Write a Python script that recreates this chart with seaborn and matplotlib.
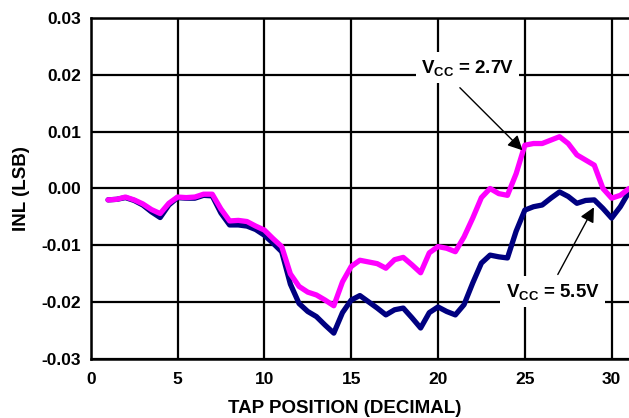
import numpy as np
import pandas as pd
from matplotlib import pyplot as plt
import seaborn as sns


# INL readings every half tap
tap = [1 + 0.5 * i for i in range(61)]
inl_27v = [-0.0020, -0.0019, -0.0015, -0.0020, -0.0027, -0.0037, -0.0044, -0.0026,
           -0.0015, -0.0016, -0.0015, -0.0010, -0.0010, -0.0036, -0.0057, -0.0056,
           -0.0058, -0.0066, -0.0073, -0.0088, -0.0102, -0.0150, -0.0172, -0.0182,
           -0.0187, -0.0196, -0.0206, -0.0164, -0.0137, -0.0126, -0.0129, -0.0132,
           -0.0140, -0.0125, -0.0121, -0.0134, -0.0148, -0.0113, -0.0102, -0.0105,
           -0.0111, -0.0085, -0.0052, -0.0016, 0.0000, -0.0009, -0.0012, 0.0026,
           0.0076, 0.0079, 0.0079, 0.0085, 0.0091, 0.0079, 0.0059, 0.0050,
           0.0041, 0.0000, -0.0017, -0.0012, 0.0000]
inl_55v = [-0.0020, -0.0019, -0.0016, -0.0021, -0.0029, -0.0041, -0.0051, -0.0029,
           -0.0016, -0.0017, -0.0017, -0.0012, -0.0013, -0.0043, -0.0064, -0.0064,
           -0.0066, -0.0072, -0.0082, -0.0096, -0.0111, -0.0168, -0.0202, -0.0216,
           -0.0225, -0.0240, -0.0254, -0.0218, -0.0196, -0.0188, -0.0199, -0.0210,
           -0.0222, -0.0213, -0.0210, -0.0227, -0.0245, -0.0218, -0.0208, -0.0216,
           -0.0222, -0.0204, -0.0166, -0.0131, -0.0117, -0.0120, -0.0122, -0.0075,
           -0.0038, -0.0032, -0.0029, -0.0017, -0.0006, -0.0014, -0.0026, -0.0021,
           -0.0020, -0.0035, -0.0052, -0.0032, -0.0006]
y_ticks = [-0.03, -0.02, -0.01, 0.00, 0.01, 0.02, 0.03]
x_ticks = [0, 5, 10, 15, 20, 25, 30]


def make_frame():
    df = pd.DataFrame({'tap': tap + tap,
                       'inl': inl_27v + inl_55v,
                       'vcc': ['2.7V'] * len(tap) + ['5.5V'] * len(tap)})
    return df


def draw_chart(df):
    sns.set_style('white')
    plt.rcParams['font.family'] = ['Liberation Sans', 'DejaVu Sans']
    plt.rcParams['font.weight'] = 'bold'
    plt.rcParams['axes.unicode_minus'] = False
    plt.rcParams['mathtext.fontset'] = 'custom'
    plt.rcParams['mathtext.rm'] = 'Liberation Sans:bold'
    plt.rcParams['mathtext.bf'] = 'Liberation Sans:bold'
    plt.rcParams['mathtext.default'] = 'rm'
    for key in ['text.color', 'axes.labelcolor', 'xtick.color', 'ytick.color']:
        plt.rcParams[key] = 'black'

    fig = plt.figure(figsize=(6.29, 4.18), dpi=100)
    ax = fig.add_axes([0.1442, 0.1404, 0.8558, 0.8173])

    # navy first so the magenta trace sits on top
    sns.lineplot(data=df, x='tap', y='inl', hue='vcc', hue_order=['5.5V', '2.7V'],
                 palette={'2.7V': '#ff00ff', '5.5V': '#000080'},
                 linewidth=3.8, legend=False, ax=ax, zorder=3,
                 solid_joinstyle='round', solid_capstyle='round')

    ax.set_xlim(0, 31)
    ax.set_ylim(-0.03, 0.03)
    ax.set_xticks(x_ticks)
    ax.set_yticks(y_ticks)
    ax.set_yticklabels([f'{v:.2f}' for v in y_ticks])
    ax.grid(True, color='black', linewidth=1.6)
    ax.tick_params(length=0, labelsize=12.5, labelcolor='black')
    ax.tick_params(axis='x', pad=9)
    ax.tick_params(axis='y', pad=7)
    for lbl in ax.get_xticklabels() + ax.get_yticklabels():
        lbl.set_fontweight('bold')
    for side in ['left', 'bottom', 'top']:
        ax.spines[side].set_color('black')
        ax.spines[side].set_linewidth(1.8)
    ax.spines['right'].set_visible(False)

    ax.set_xlabel('TAP POSITION (DECIMAL)', fontsize=13.5, fontweight='bold', color='black')
    ax.xaxis.set_label_coords(0.472, -0.118)
    ax.set_ylabel('INL (LSB)', fontsize=13.5, fontweight='bold', color='black', labelpad=8)

    box = dict(facecolor='white', edgecolor='none', pad=4)
    ax.text(21.7, 0.0212, r'V$_{\mathregular{CC}}$ = 2.7V', ha='center', va='center',
            fontsize=13.5, fontweight='bold', bbox=box, zorder=5)
    ax.text(26.6, -0.0181, r'V$_{\mathregular{CC}}$ = 5.5V', ha='center', va='center',
            fontsize=13.5, fontweight='bold', bbox=box, zorder=5)

    arrow = dict(arrowstyle='-|>', color='black', lw=1.0, mutation_scale=22,
                 shrinkA=0, shrinkB=0)
    ax.annotate('', xy=(24.87, 0.0067), xytext=(21.26, 0.0177), arrowprops=arrow, zorder=6)
    ax.annotate('', xy=(28.98, -0.0033), xytext=(26.9, -0.0151), arrowprops=arrow, zorder=6)

    plt.savefig('out.png', dpi=100)


def main():
    df = make_frame()
    draw_chart(df)


if __name__ == '__main__':
    main()
